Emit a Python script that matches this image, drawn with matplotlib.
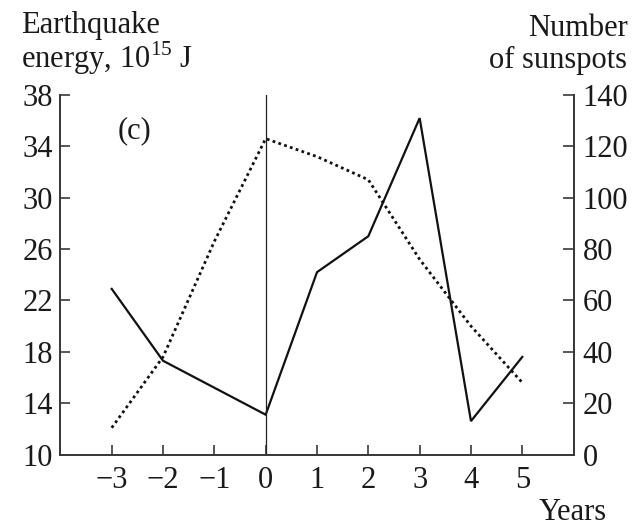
import matplotlib
matplotlib.use("Agg")
import matplotlib.pyplot as plt

# Data
years = [-3, -2, -1, 0, 1, 2, 3, 4, 5]
quake_energy = [22.9, 17.3, 15.2, 13.1, 24.2, 27.0, 36.2, 12.6, 17.6]   # 10^15 J (left axis)
sunspots = [10.4, 38, 83, 123, 116, 107, 76, 50, 28]                     # right axis
x_ticks = [-3, -2, -1, 0, 1, 2, 3, 4, 5]
x_ticklabels = ["\u22123", "\u22122", "\u22121", "0", "1", "2", "3", "4", "5"]
left_ticks = [10, 14, 18, 22, 26, 30, 34, 38]
right_ticks = [0, 20, 40, 60, 80, 100, 120, 140]

plt.rcParams['font.family'] = ['Liberation Serif', 'DejaVu Serif']
plt.rcParams['mathtext.fontset'] = 'custom'
plt.rcParams['mathtext.rm'] = 'Liberation Serif'

W, H = 635, 527
fig = plt.figure(figsize=(W / 100, H / 100), dpi=100)
L, R, B, T = 60.4, 573.6, 454.5, 95.0
ax = fig.add_axes([L / W, 1 - B / H, (R - L) / W, (B - T) / H])
ax2 = ax.twinx()

spine_col = '#3a3a3a'
text_col = '#1a1a1a'
tick_fs = 22
head_fs = 22

ax.plot(years, quake_energy, color='#111111', lw=1.6, solid_joinstyle='miter')
ax2.plot(years, sunspots, color='#111111', lw=2.0, linestyle=(0, (1, 1.2)), dash_capstyle='butt')
ax.axvline(0, color='#222222', lw=0.9)

ax.set_xlim(-4, 6)
ax.set_ylim(10, 38)
ax2.set_ylim(0, 140)

ax.set_xticks(x_ticks)
ax.set_xticklabels(x_ticklabels)
ax.set_yticks(left_ticks)
ax2.set_yticks(right_ticks)

for a in (ax, ax2):
    a.spines['top'].set_visible(False)
    for s in ('left', 'right', 'bottom'):
        a.spines[s].set_color(spine_col)
        a.spines[s].set_linewidth(1.3)

ax.tick_params(axis='x', direction='in', length=7.5, width=1.2, color=spine_col,
               labelsize=tick_fs, labelcolor=text_col, pad=8)
ax.tick_params(axis='y', direction='in', length=7.5, width=1.2, color=spine_col,
               labelsize=tick_fs, labelcolor=text_col, pad=5.5)
ax2.tick_params(axis='y', direction='in', length=8, width=1.2, color=spine_col,
                labelsize=tick_fs, labelcolor=text_col, pad=6.5)

ax.text(-2.55, 35.2, "(c)", fontsize=head_fs, color=text_col, ha='center', va='center')

fig.text(21 / W, 1 - 33 / H, "Earthquake", fontsize=head_fs, color=text_col, ha='left', va='baseline')
fig.text(21 / W, 1 - 68 / H, "energy, 10$^{15}$ J", fontsize=head_fs, color=text_col, ha='left', va='baseline')
fig.text(628 / W, 1 - 36 / H, "Number", fontsize=head_fs, color=text_col, ha='right', va='baseline')
fig.text(627 / W, 1 - 68 / H, "of sunspots", fontsize=head_fs, color=text_col, ha='right', va='baseline')
fig.text(607 / W, 1 - 520.5 / H, "Years", fontsize=head_fs, color=text_col, ha='right', va='baseline')

fig.savefig("out.png", dpi=100)
